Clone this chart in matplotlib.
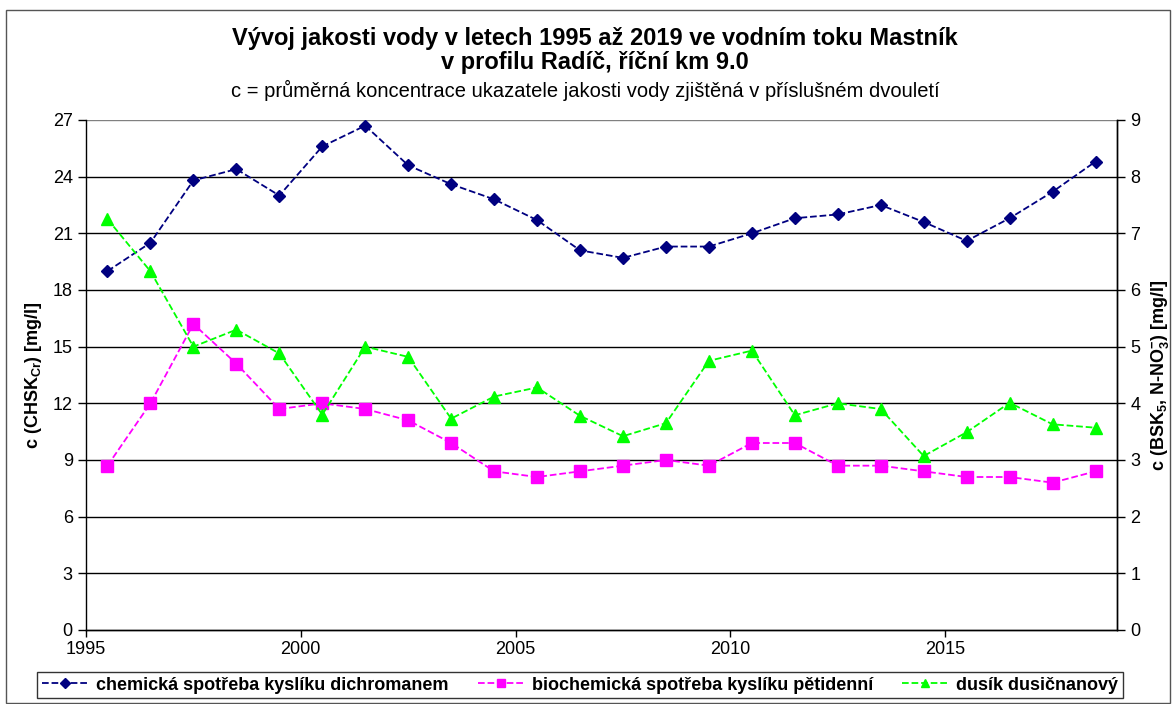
import matplotlib
matplotlib.use("Agg")
import matplotlib.pyplot as plt
from matplotlib.patches import Rectangle
from matplotlib.lines import Line2D

plt.rcParams["font.family"] = ["Liberation Sans", "DejaVu Sans"]

# -- data (two-year averages, plotted at mid-year) ----------------------
years = [1995.5 + i for i in range(24)]
chsk = [19.0, 20.5, 23.8, 24.4, 23.0, 25.6, 26.7, 24.6, 23.6, 22.8, 21.7, 20.1,
        19.7, 20.3, 20.3, 21.0, 21.8, 22.0, 22.5, 21.6, 20.6, 21.8, 23.2, 24.8]
bsk = [2.9, 4.0, 5.4, 4.7, 3.9, 4.0, 3.9, 3.7, 3.3, 2.8, 2.7, 2.8,
       2.9, 3.0, 2.9, 3.3, 3.3, 2.9, 2.9, 2.8, 2.7, 2.7, 2.6, 2.8]
nno3 = [7.25, 6.33, 5.0, 5.3, 4.88, 3.8, 5.0, 4.82, 3.73, 4.12, 4.28, 3.78,
        3.42, 3.65, 4.75, 4.93, 3.79, 4.0, 3.9, 3.07, 3.49, 4.01, 3.63, 3.57]

labels = ["chemická spotřeba kyslíku dichromanem",
          "biochemická spotřeba kyslíku pětidenní",
          "dusík dusičnanový"]
colors = ["#000080", "#FF00FF", "#00FF00"]

left_ticks = list(range(0, 28, 3))
right_ticks = list(range(0, 10))
x_ticks = [1995, 2000, 2005, 2010, 2015]

# -- figure -------------------------------------------------------------
fig = plt.figure(figsize=(11.74, 7.04), dpi=100)
fig.patches.append(Rectangle((6 / 1174, 0.002), 1164 / 1174, 1 - 10 / 704 - 0.002,
                             transform=fig.transFigure, fill=False,
                             edgecolor="#555555", lw=1.0))

ax = fig.add_axes([86 / 1174, 1 - 630 / 704, (1117 - 86) / 1174, (630 - 120) / 704])
ax2 = ax.twinx()

ax.set_xlim(1995, 2019)
ax.set_ylim(0, 27)
ax2.set_ylim(0, 9)
ax.set_yticks(left_ticks)
ax2.set_yticks(right_ticks)
ax.set_xticks(x_ticks)

for y in left_ticks[1:]:
    ax.axhline(y, color="black" if y < 27 else "#808080", lw=1.0, zorder=0)

ax.plot(years, chsk, "--", color=colors[0], marker="D", ms=6, lw=1.3, zorder=3)
ax2.plot(years, bsk, "--", color=colors[1], marker="s", ms=8, lw=1.3, zorder=3)
ax2.plot(years, nno3, "--", color=colors[2], marker="^", ms=8, lw=1.3, zorder=3)

for a in (ax, ax2):
    a.spines["top"].set_visible(False)
    for s in a.spines.values():
        s.set_linewidth(1.0)
        s.set_color("black")
    a.tick_params(labelsize=13, length=6, width=1.0, direction="out")
ax.tick_params(axis="x", length=5, pad=3)
ax2.spines["left"].set_visible(False)

ax.set_ylabel("c (CHSK$_{\\mathregular{Cr}}$) [mg/l]", fontsize=13, fontweight="bold", labelpad=6)
ax2.set_ylabel("c (BSK$_{\\mathregular{5}}$, N-NO$_{\\mathregular{3}}^{\\mathregular{-}}$) [mg/l]",
               fontsize=13, fontweight="bold", rotation=90, labelpad=6)

fig.text(595 / 1174, 1 - 38 / 704, "Vývoj jakosti vody v letech 1995 až 2019 ve vodním toku Mastník",
         ha="center", va="center", fontsize=17, fontweight="bold")
fig.text(595 / 1174, 1 - 63 / 704, "v profilu Radíč, říční km 9.0",
         ha="center", va="center", fontsize=17, fontweight="bold")
fig.text(585 / 1174, 1 - 90 / 704,
         "c = průměrná koncentrace ukazatele jakosti vody zjištěná v příslušném dvouletí",
         ha="center", va="center", fontsize=14.5)

handles = [
    Line2D([], [], ls="--", color=colors[0], marker="D", ms=5, lw=1.3),
    Line2D([], [], ls="--", color=colors[1], marker="s", ms=6, lw=1.3),
    Line2D([], [], ls="--", color=colors[2], marker="^", ms=6, lw=1.3),
]
leg = fig.legend(handles, labels, loc="center", bbox_to_anchor=(580 / 1174, 1 - 685 / 704),
                 ncol=3, prop={"weight": "bold", "size": 13},
                 frameon=True, fancybox=False, edgecolor="black", handlelength=2.6,
                 handletextpad=0.4, columnspacing=1.6, borderpad=0.25)
leg.get_frame().set_linewidth(1.0)

fig.savefig("out.png", dpi=100)
